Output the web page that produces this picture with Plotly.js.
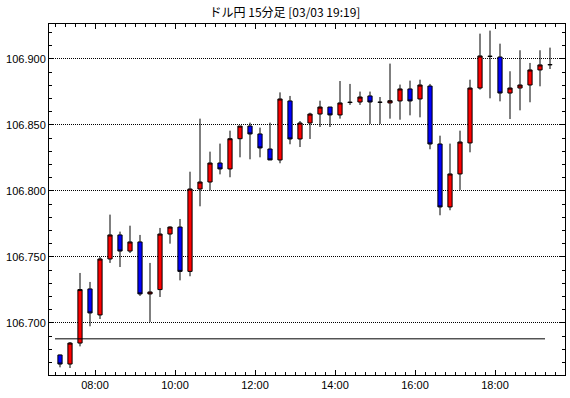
<!DOCTYPE html>
<html><head><meta charset="utf-8">
<script src="https://cdn.plot.ly/plotly-3.0.1.min.js"></script>
<style>html,body{margin:0;padding:0;background:#fff}#chart{width:570px;height:398px}</style>
</head><body><div id="chart"></div>
<script>
// 15-minute candles, start times
const times = ["07:00","07:15","07:30","07:45","08:00","08:15","08:30","08:45","09:00","09:15",
  "09:30","09:45","10:00","10:15","10:30","10:45","11:00","11:15","11:30","11:45",
  "12:00","12:15","12:30","12:45","13:00","13:15","13:30","13:45","14:00","14:15",
  "14:30","14:45","15:00","15:15","15:30","15:45","16:00","16:15","16:30","16:45",
  "17:00","17:15","17:30","17:45","18:00","18:15","18:30","18:45","19:00","19:15"];
const open = [106.6758,106.6689,106.6848,106.7258,106.7061,106.7485,106.7667,106.7545,106.7614,106.7220,
  106.7253,106.7674,106.7727,106.7391,106.8015,106.8068,106.8212,106.8167,106.8396,106.8492,
  106.8432,106.8318,106.8235,106.8682,106.8394,106.8515,106.8583,106.8636,106.8576,106.8670,
  106.8674,106.8720,106.8672,106.8667,106.8682,106.8773,106.8697,106.8795,106.8356,106.7879,
  106.8129,106.8364,106.8780,106.9020,106.9015,106.8742,106.8780,106.8803,106.8917,106.8957];
const high = [106.6760,106.6856,106.7379,106.7311,106.7500,106.7821,106.7692,106.7737,106.7667,106.7455,
  106.7720,106.7732,106.7788,106.8146,106.8548,106.8298,106.8359,106.8457,106.8492,106.8518,
  106.8480,106.8518,106.8747,106.8720,106.8530,106.8593,106.8684,106.8636,106.8833,106.8811,
  106.8753,106.8753,106.8712,106.8965,106.8806,106.8836,106.8843,106.8811,106.8419,106.8359,
  106.8457,106.8843,106.9192,106.9215,106.9116,106.8907,106.9066,106.8970,106.9066,106.9086];
const low = [106.6664,106.6659,106.6823,106.6975,106.7030,106.7455,106.7424,106.7530,106.7205,106.7008,
  106.7197,106.7601,106.7323,106.7354,106.7884,106.8005,106.8126,106.8104,106.8255,106.8240,
  106.8255,106.8235,106.8210,106.8354,106.8333,106.8394,106.8485,106.8485,106.8548,106.8652,
  106.8652,106.8508,106.8508,106.8548,106.8540,106.8573,106.8558,106.8316,106.7816,106.7854,
  106.8008,106.8293,106.8768,106.8702,106.8679,106.8545,106.8611,106.8672,106.8793,106.8924];
const close = [106.6689,106.6848,106.7253,106.7076,106.7485,106.7667,106.7545,106.7614,106.7220,106.7235,
  106.7674,106.7727,106.7391,106.8015,106.8068,106.8212,106.8167,106.8396,106.8492,106.8432,
  106.8326,106.8235,106.8697,106.8394,106.8515,106.8583,106.8636,106.8576,106.8667,106.8672,
  106.8712,106.8674,106.8672,106.8684,106.8773,106.8682,106.8803,106.8356,106.7879,106.8129,
  106.8371,106.8780,106.9023,106.9020,106.8742,106.8780,106.8803,106.8917,106.8955,106.8957];
const tickLabels = ["08:00","10:00","12:00","14:00","16:00","18:00"];
const refLevel = 106.688;
const refStart = "07:00";
const refEnd = "19:15";
const chartTitle = "ドル円 15分足 [03/03 19:19]";

const toHours = s => { const [h, m] = s.split(":").map(Number); return h + m / 60; };
const xs = times.map(t => toHours(t) + 0.125);

const tickFont = {family: "Liberation Sans", size: 11, color: "#000"};
const data = [
  {
    type: "scatter", mode: "lines", x: [toHours(refStart), toHours(refEnd)], y: [refLevel, refLevel],
    line: {color: "#000", width: 1}, hoverinfo: "skip", showlegend: false
  },
  {
    type: "candlestick", x: xs, open: open, high: high, low: low, close: close,
    increasing: {line: {color: "#000", width: 1}, fillcolor: "#ff0000"},
    decreasing: {line: {color: "#000", width: 1}, fillcolor: "#0000ff"},
    whiskerwidth: 0, showlegend: false, hoverinfo: "skip"
  }
];
const layout = {
  width: 570, height: 398,
  margin: {l: 49, r: 5, t: 24, b: 23},
  paper_bgcolor: "#fff", plot_bgcolor: "#fff",
  boxgap: 0.4,
  title: {text: chartTitle, font: {family: "Noto Sans CJK JP", size: 12, color: "#000"},
          x: 0.5, xref: "container", xanchor: "center", y: 1 - 13/398, yref: "container", yanchor: "middle"},
  xaxis: {
    range: [6.85, 19.75], tickmode: "array", tickvals: tickLabels.map(toHours), ticktext: tickLabels,
    ticks: "inside", ticklen: 5, tickcolor: "#000", tickwidth: 1,
    showline: true, linecolor: "#000", linewidth: 1, mirror: "allticks",
    showgrid: false, zeroline: false, tickfont: tickFont, rangeslider: {visible: false},
    fixedrange: true,
    minor: {tickmode: "linear", tick0: 0, dtick: 0.25, ticks: "inside", ticklen: 3, tickcolor: "#000", showgrid: false}
  },
  yaxis: {
    range: [106.6606, 106.9265], tickmode: "linear", tick0: 106.7, dtick: 0.05, tickformat: ".3f",
    ticks: "inside", ticklen: 5, tickcolor: "#000", tickwidth: 1,
    showline: true, linecolor: "#000", linewidth: 1, mirror: "allticks",
    showgrid: true, gridcolor: "#000", gridwidth: 1, griddash: "1px,1px",
    zeroline: false, tickfont: tickFont, fixedrange: true,
    minor: {tickmode: "linear", tick0: 106.7, dtick: 0.01, ticks: "inside", ticklen: 3, tickcolor: "#000", showgrid: false}
  }
};
Plotly.newPlot("chart", data, layout, {displayModeBar: false, staticPlot: true});
</script>
</body></html>
